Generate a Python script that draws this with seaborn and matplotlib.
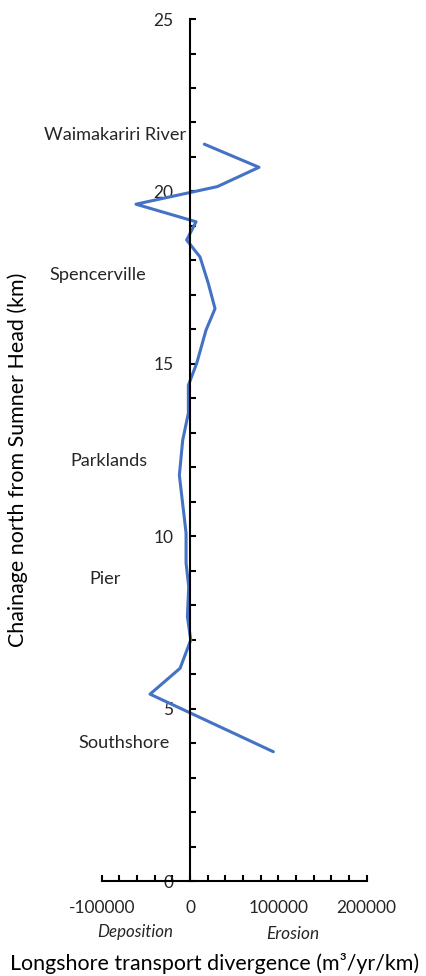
import matplotlib
matplotlib.use("Agg")
import matplotlib.pyplot as plt
from matplotlib.ticker import MultipleLocator, FuncFormatter
import pandas as pd
import seaborn as sns

sns.set_style("white")
plt.rcParams['font.family'] = ['Lato', 'DejaVu Sans']

# Longshore transport divergence along the coast (north of Sumner Head)
chainage_km = [21.37, 20.70, 20.14, 19.63, 19.12, 18.59, 18.10, 17.33, 16.60,
               15.98, 15.02, 14.38, 13.57, 12.79, 11.77, 10.09, 9.22, 8.54,
               7.67, 6.99, 6.17, 5.42, 3.75]
divergence = [16200, 78100, 30900, -61200, 6800, -3800, 11300, 20700, 28300,
              18100, 7600, -1900, -1900, -8300, -12100, -4500, -4500, -1500,
              -3000, 800, -11300, -45300, 94300]

# Place names along the coast
site_names = ["Waimakariri River", "Spencerville", "Parklands", "Pier", "Southshore"]
site_x = [-84900, -104800, -92300, -96300, -74700]
site_y = [21.64, 17.58, 12.19, 8.76, 4.00]

df = pd.DataFrame({"divergence": divergence, "chainage": chainage_km})

text_color = "#262626"
fig = plt.figure(figsize=(4.27, 9.76), dpi=100)
ax = fig.add_axes([0.2382, 0.0973, 0.6206, 0.8832])

sns.lineplot(data=df, x="divergence", y="chainage", sort=False, estimator=None,
             color="#4472C4", linewidth=2.2, ax=ax)

ax.set_xlim(-100000, 200000)
ax.set_ylim(0, 25)
ax.set_xlabel("")
ax.set_ylabel("")

ax.spines["left"].set_position(("data", 0))
ax.spines["top"].set_visible(False)
ax.spines["right"].set_visible(False)
for s in ("left", "bottom"):
    ax.spines[s].set_linewidth(1.5)
    ax.spines[s].set_color("black")

ax.xaxis.set_major_locator(MultipleLocator(100000))
ax.xaxis.set_minor_locator(MultipleLocator(20000))
ax.yaxis.set_major_locator(MultipleLocator(5))
ax.yaxis.set_minor_locator(MultipleLocator(1))
ax.xaxis.set_major_formatter(FuncFormatter(lambda v, p: f"{v:.0f}"))
ax.yaxis.set_major_formatter(FuncFormatter(lambda v, p: f"{v:.0f}"))

ax.tick_params(which="both", direction="in", length=4.2, width=1.5, color="black",
               bottom=True, left=True, top=False, right=False,
               labelsize=12.5, labelcolor=text_color)
ax.tick_params(axis="y", which="major", pad=12)
ax.tick_params(axis="x", which="major", pad=14)

for name, x, y in zip(site_names, site_x, site_y):
    ax.text(x, y, name, ha="center", va="center", fontsize=13.1, color=text_color)

fig.text(135.5 / 427, 1 - 932 / 976, "Deposition", style="italic", ha="center",
         va="center", fontsize=12.2, color=text_color)
fig.text(293 / 427, 1 - 934 / 976, "Erosion", style="italic", ha="center",
         va="center", fontsize=12.4, color=text_color)
fig.text(215 / 427, 1 - 963 / 976, "Longshore transport divergence (m³/yr/km)",
         ha="center", va="center", fontsize=15.4, color="black")
fig.text(18 / 427, 1 - 460 / 976, "Chainage north from Sumner Head (km)",
         rotation=90, ha="center", va="center", fontsize=15.4, color="black")

fig.savefig("out.png", dpi=100)
